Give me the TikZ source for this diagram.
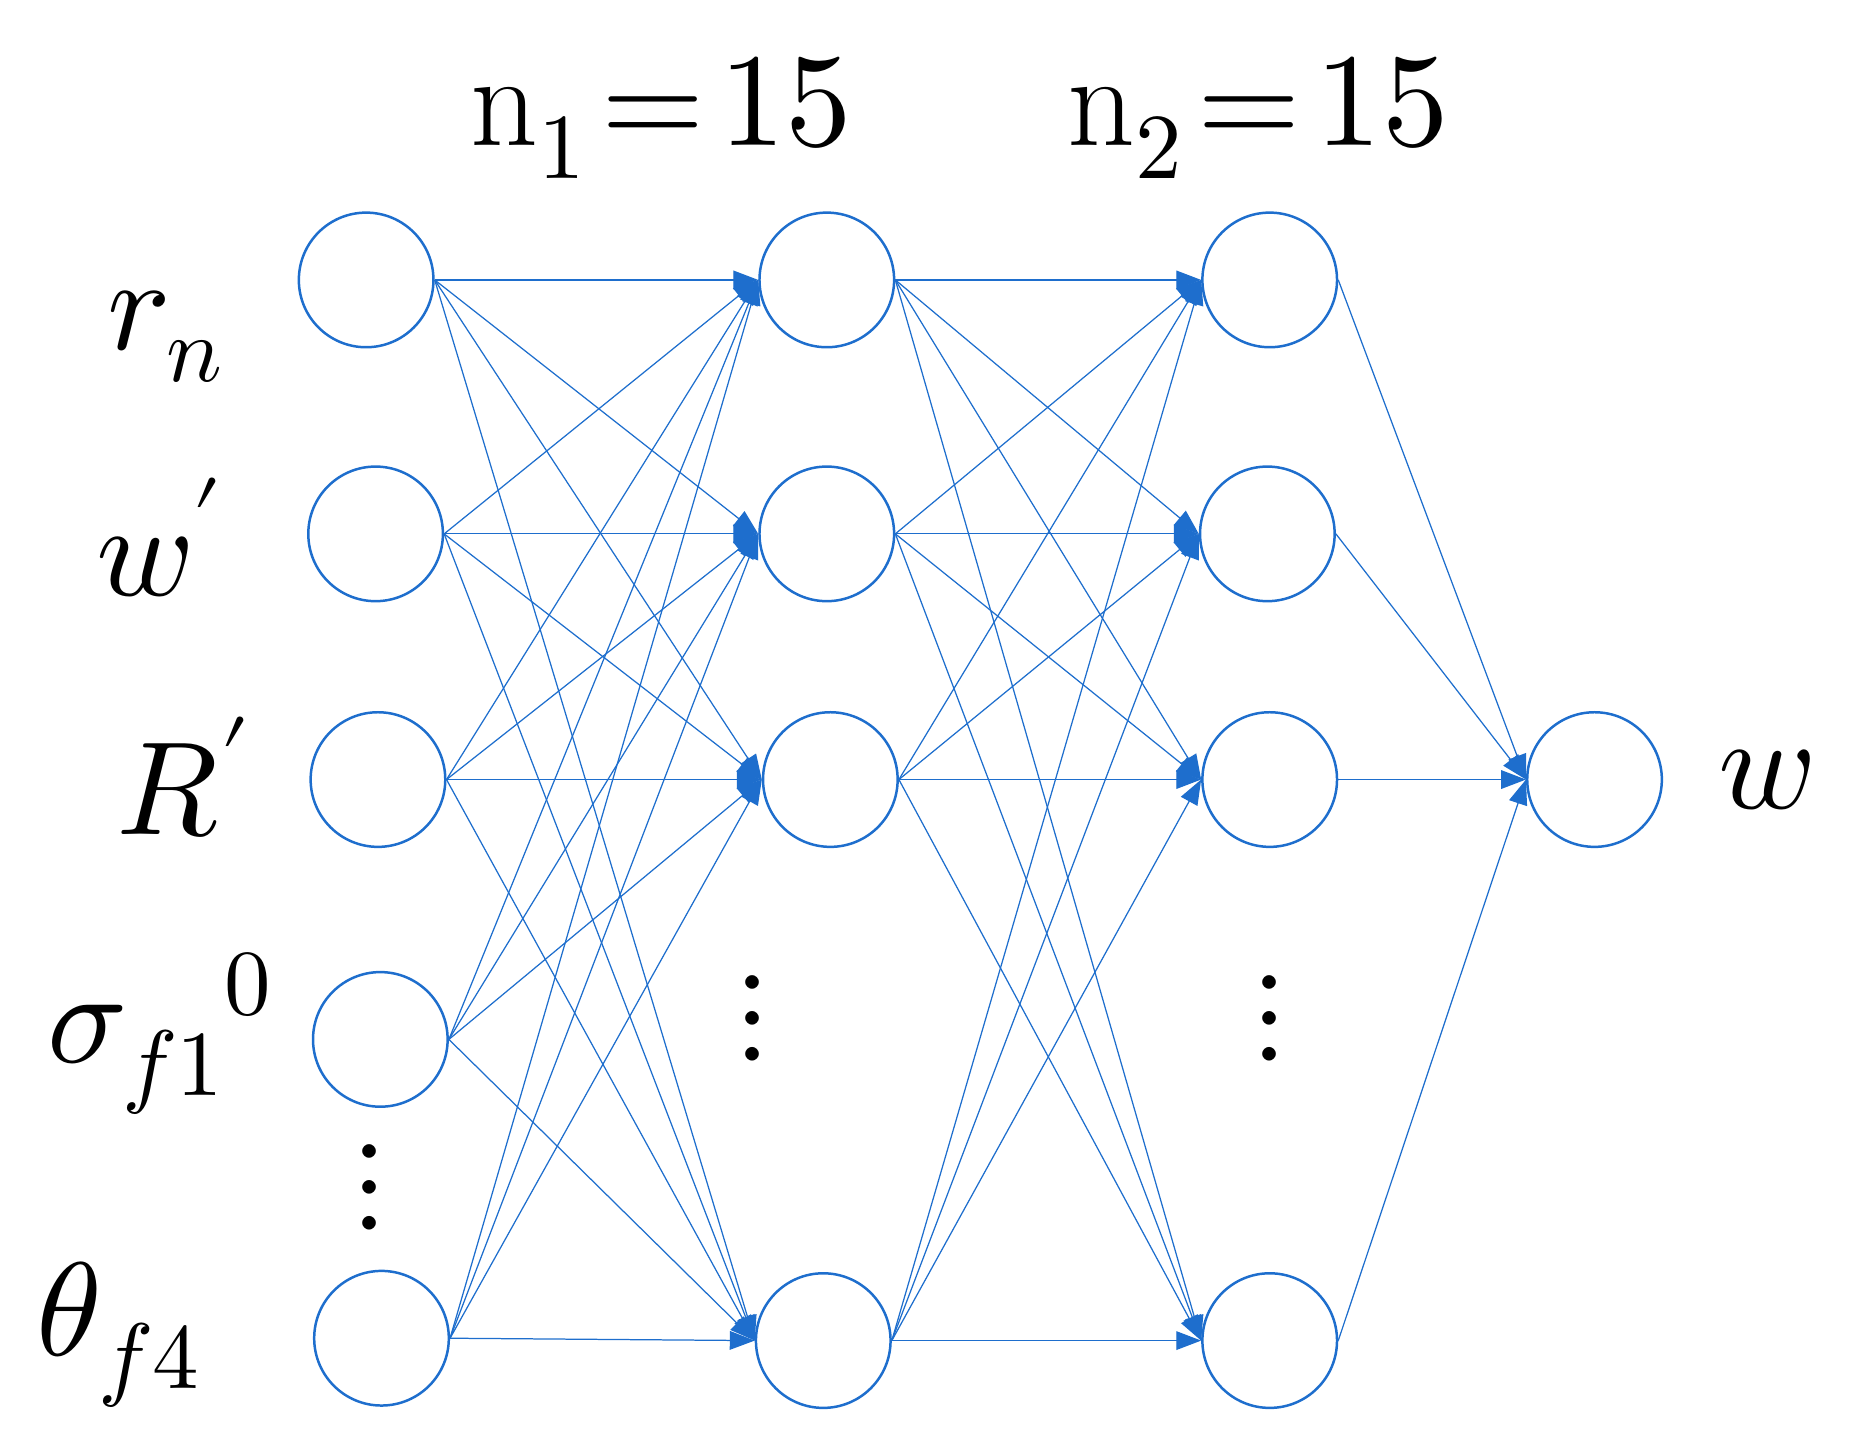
\documentclass[tikz,border=0pt]{standalone}
\usepackage{unicode-math}
\usetikzlibrary{arrows.meta}
\definecolor{nb}{RGB}{30,110,205}
\begin{document}
\begin{tikzpicture}[x=0.02cm,y=-0.02cm,
  neu/.style={circle,draw=nb,line width=1.2pt,minimum size=2.28cm,inner sep=0},
  con/.style={draw=nb,line width=0.6pt,-{Triangle[length=12pt,width=9pt]}},
  lab/.style={font=\fontsize{64}{70}\selectfont},
  dot/.style={font=\fontsize{62}{62}\selectfont}]
\useasboundingbox (0,0) rectangle (1568,1227);
\node[neu] (a1) at (310,237) {};
\node[neu] (a2) at (318,452) {};
\node[neu] (a3) at (320,660) {};
\node[neu] (a4) at (322,880) {};
\node[neu] (a5) at (323,1133) {};
\node[neu] (b1) at (700,237) {};
\node[neu] (b2) at (700,452) {};
\node[neu] (b3) at (703,660) {};
\node[neu] (b4) at (697,1135) {};
\node[neu] (c1) at (1075,237) {};
\node[neu] (c2) at (1073,452) {};
\node[neu] (c3) at (1075,660) {};
\node[neu] (c4) at (1075,1135) {};
\node[neu] (o) at (1350,660) {};
\foreach \i in {1,...,5}{\foreach \j in {1,...,4}{\draw[con] (a\i.east) -- (b\j.west);}}
\foreach \i in {1,...,4}{\foreach \j in {1,...,4}{\draw[con] (b\i.east) -- (c\j.west);}}
\foreach \i in {1,...,4}{\draw[con] (c\i.east) -- (o.west);}
\node[lab] (t1) at (560,100) {$\mathrm{n}_1\!=\!15$};
\node[lab] (t2) at (1065,100) {$\mathrm{n}_2\!=\!15$};
\node[lab] (l1) at (140,285) {$r_n$};
\node[lab] (l2) at (135,455) {$w'$};
\node[lab] (l3) at (155,658) {$R'$};
\node[lab] (l4) at (135,875) {$\sigma_{f1}{}^{0}$};
\node[lab] (l5) at (100,1130) {$\theta_{f4}$};
\node[lab] (l6) at (1495,660) {$w$};
\node[dot] (d1) at (313,1005) {$\vdots$};
\node[dot] (d2) at (637,862) {$\vdots$};
\node[dot] (d3) at (1075,862) {$\vdots$};
\end{tikzpicture}
\end{document}
